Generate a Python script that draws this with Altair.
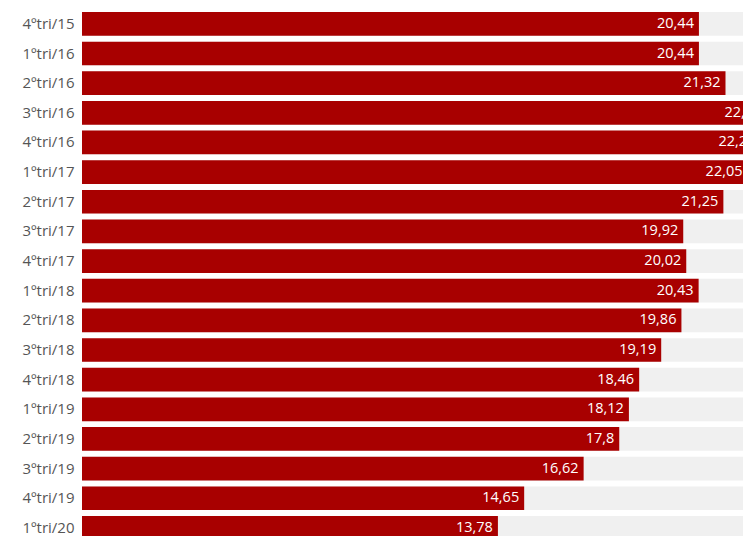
import altair as alt
import pandas as pd

quarters = ["4ºtri/15", "1ºtri/16", "2ºtri/16", "3ºtri/16", "4ºtri/16", "1ºtri/17",
            "2ºtri/17", "3ºtri/17", "4ºtri/17", "1ºtri/18", "2ºtri/18", "3ºtri/18",
            "4ºtri/18", "1ºtri/19", "2ºtri/19", "3ºtri/19", "4ºtri/19", "1ºtri/20"]
values = [20.44, 20.44, 21.32, 22.4, 22.2, 22.05, 21.25, 19.92, 20.02, 20.43,
          19.86, 19.19, 18.46, 18.12, 17.8, 16.62, 14.65, 13.78]
labels = ["20,44", "20,44", "21,32", "22,4", "22,2", "22,05", "21,25", "19,92", "20,02", "20,43",
          "19,86", "19,19", "18,46", "18,12", "17,8", "16,62", "14,65", "13,78"]
bg_max = 30

df = pd.DataFrame({"q": quarters, "v": values, "lab": labels, "bg": [bg_max] * len(quarters)})

step = 29.65
pad = 0.2
r0 = 4
r1 = r0 + step * (len(quarters) - pad)

y = alt.Y("q:N", sort=quarters, title=None,
          scale=alt.Scale(range=[r0, r1], paddingInner=pad, paddingOuter=0),
          axis=alt.Axis(domain=False, ticks=False, labelFont="Open Sans", labelFontSize=15,
                        labelColor="#555555", labelPadding=8))
xs = alt.Scale(domain=[0, 21.9], nice=False, zero=True)

base = alt.Chart(df)
bg = base.mark_bar(color="#f0f0f0", clip=True).encode(
    x=alt.X("bg:Q", scale=xs, axis=None), y=y)
bars = base.mark_bar(color="#a80000", clip=True).encode(
    x=alt.X("v:Q", scale=xs, axis=None), y=y)
text = base.mark_text(align="right", dx=-5, color="#ffffff", font="Open Sans",
                      fontSize=14.5, clip=True).encode(
    x=alt.X("v:Q", scale=xs, axis=None), y=y, text="lab:N")

chart = (bg + bars + text).properties(
    width=661, height=528,
    autosize=alt.AutoSizeParams(type="none"),
    padding={"left": 74, "top": 0, "right": 0, "bottom": 0},
).configure_view(stroke=None)

chart.save("out.html", embed_options={"renderer": "svg", "actions": False})
